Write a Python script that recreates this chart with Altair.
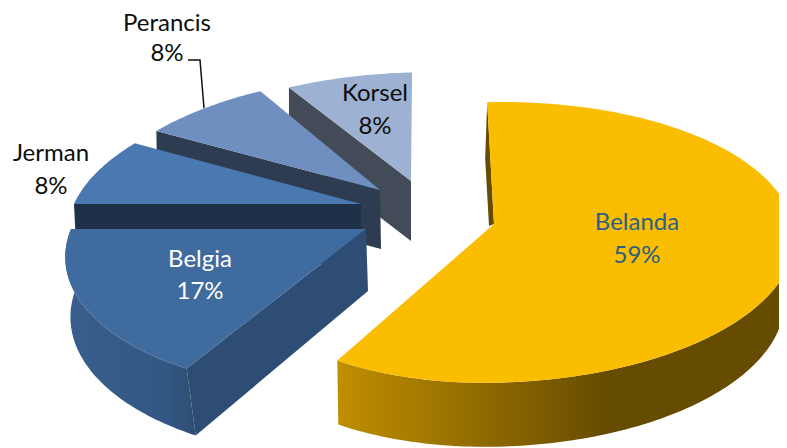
import math
import altair as alt

# --- chart values ---
countries = ["Belanda", "Belgia", "Jerman", "Perancis", "Korsel"]
shares = [59, 17, 8, 8, 8]
labels = [f"{s}%" for s in shares]

OX, OY = 8, 8      # page margin
START = -3.6       # rotation of first slice, degrees
K = 0.131          # perspective of the tilted disc
W, H = 771, 440

# apex, horizontal/vertical radii, shear, depth for every exploded slice
slices = {
    "Belanda":  dict(ax=494, ay=224, al=271, ar=299, b=138, c=9.3, top="#FBBD00"),
    "Belgia":   dict(ax=366, ay=229, al=295, ar=295, b=141, c=19, top="#406B9E"),
    "Jerman":   dict(ax=361, ay=204, al=287, ar=287, b=134, c=23, top="#4A78B0"),
    "Perancis": dict(ax=380, ay=190, al=284, ar=284, b=130, c=23, top="#6E8FBF"),
    "Korsel":   dict(ax=411, ay=181, al=283, ar=283, b=123, c=19, top="#9DB1D3"),
}


def spans():
    out, t = {}, START
    for n, s in zip(countries, shares):
        out[n] = (t, t + s * 3.6)
        t += s * 3.6
    return out


def pt(p, deg, dx=0, dy=0, al=None, ar=None, b=None, c=None):
    th = math.radians(deg)
    u, v = math.sin(th), math.cos(th)
    w = 1 + K * v
    a = (ar or p["ar"]) if u > 0 else (al or p["al"])
    cc = p["c"] if c is None else c
    return [p["ax"] + dx + (a * u + cc * v) / w - OX,
            p["ay"] + dy - (b or p["b"]) * v / w - OY]


def apex(p, dx=0, dy=0):
    return [p["ax"] + dx - OX, p["ay"] + dy - OY]


def arc(p, t0, t1, **kw):
    n = max(8, int(abs(t1 - t0)))
    return [pt(p, t0 + (t1 - t0) * i / n, **kw) for i in range(n + 1)]


def shape(coords, fill):
    ring = coords + [coords[0]]
    feat = {"type": "Feature", "properties": {},
            "geometry": {"type": "Polygon", "coordinates": [ring]}}
    return alt.Chart(alt.InlineData(values=[feat], format=alt.DataFormat(type="json"))).mark_geoshape(
        fill=fill, stroke=None, clip=True
    ).project(type="identity", scale=1, translate=[0, 0])


def grad(stops):
    return alt.LinearGradient(gradient="linear", x1=0, x2=1, y1=0, y2=0,
                              stops=[alt.GradientStop(offset=o, color=c) for o, c in stops])


S = spans()
layers = []

# Korsel
p = slices["Korsel"]; t0, t1 = S["Korsel"]
a0 = pt(p, t0)
layers.append(shape([a0, apex(p), apex(p, 0, 60), [a0[0], a0[1] + 60]], "#434B59"))
layers.append(shape([apex(p)] + arc(p, t0, t1), p["top"]))

# Perancis
p = slices["Perancis"]; t0, t1 = S["Perancis"]
a0 = pt(p, t0)
layers.append(shape([a0, apex(p), apex(p, 1, 59), [a0[0] + 1, a0[1] + 59]], "#2E3C52"))
layers.append(shape([apex(p)] + arc(p, t0, t1), p["top"]))

# Jerman
p = slices["Jerman"]; t0, t1 = S["Jerman"]
a0 = pt(p, t0)
layers.append(shape([a0, apex(p), apex(p, 0, 60), [a0[0] + 3, a0[1] + 60]], "#1F3049"))
layers.append(shape([apex(p)] + arc(p, t0, t1), p["top"]))

# Belgia
p = slices["Belgia"]; t0, t1 = S["Belgia"]
a0, a1 = pt(p, t0), pt(p, t1)
low = dict(dx=2, dy=62, al=293, b=146, c=13)
layers.append(shape(arc(p, t0, t1) + arc(p, t1, t0, **low),
                    grad([(0, "#395E8D"), (0.8, "#335783"), (1, "#2F4D72")])))
layers.append(shape([apex(p), apex(p, 2, 62), pt(p, t0, **low), a0], "#2E4D74"))
layers.append(shape([apex(p)] + arc(p, t0, t1), p["top"]))

# Belanda
p = slices["Belanda"]; t0, t1 = S["Belanda"]
a0 = pt(p, t0)
layers.append(shape([a0, [a0[0] - 2, a0[1] + 56], apex(p, -5, 2), apex(p)], "#664C00"))
low = dict(dy=64, ar=288, dx=1)
layers.append(shape(arc(p, 90, t1) + arc(p, t1, 90, **low),
                    grad([(0, "#C08E00"), (0.59, "#664C00"), (1, "#664C00")])))
layers.append(shape([apex(p)] + arc(p, t0, t1), p["top"]))

# leader line for Perancis
leader = [{"x": 188 - OX, "y": 60 - OY, "o": 0},
          {"x": 200 - OX, "y": 60 - OY, "o": 1},
          {"x": 204 - OX, "y": 108 - OY, "o": 2}]
layers.append(alt.Chart(alt.Data(values=leader)).mark_line(color="#111111", strokeWidth=1.5).encode(
    x=alt.X("x:Q", scale=None, axis=None), y=alt.Y("y:Q", scale=None, axis=None), order="o:Q"))

# labels
text_pos = {
    "Belanda": (637, 223, 256, "#2C5F85"),
    "Belgia": (200, 260, 292, "#FFFFFF"),
    "Jerman": (51, 154, 187, "#0D0D0D"),
    "Perancis": (167, 24, 54, "#0D0D0D"),
    "Korsel": (375, 94, 127, "#0D0D0D"),
}
rows = []
for n, lab in zip(countries, labels):
    x, y1, y2, col = text_pos[n]
    rows.append({"x": x - OX, "y": y1 - OY, "t": n, "c": col})
    rows.append({"x": x - OX, "y": y2 - OY, "t": lab, "c": col})
layers.append(alt.Chart(alt.Data(values=rows)).mark_text(font="Lato", fontSize=24, align="center", baseline="middle").encode(
    x=alt.X("x:Q", scale=None, axis=None), y=alt.Y("y:Q", scale=None, axis=None),
    text="t:N", color=alt.Color("c:N", scale=None, legend=None)))

chart = alt.layer(*layers).properties(width=W, height=H, padding=0, background="white").configure_view(stroke=None)
chart.save("out.html", embed_options={"renderer": "svg", "actions": False})
